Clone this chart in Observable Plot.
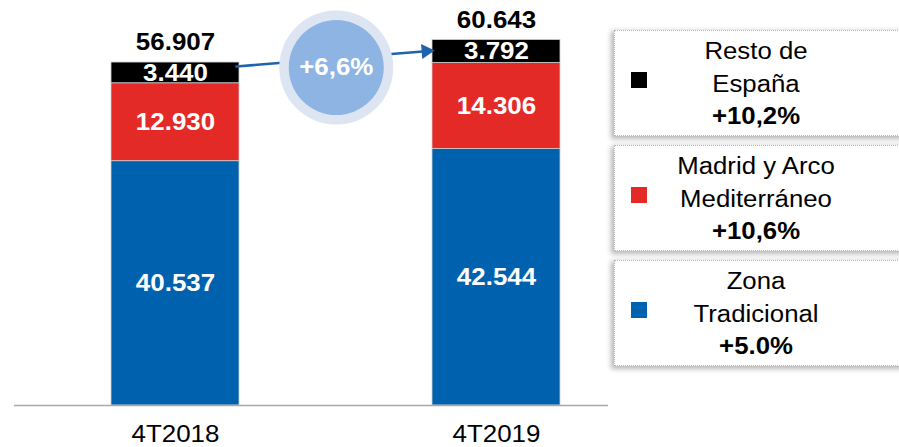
<!DOCTYPE html>
<html><head><meta charset="utf-8">
<script src="https://cdn.jsdelivr.net/npm/d3@7"></script>
<script src="https://cdn.jsdelivr.net/npm/@observablehq/plot@0.6"></script>
<style>
body{margin:0;background:#fff;overflow:hidden;font-family:"Liberation Sans",Arial,sans-serif;}
#wrap{position:relative;width:899px;height:447px;overflow:hidden;}
#chart{position:absolute;left:0;top:0;}
.box{position:absolute;left:614px;width:300px;height:104px;background:#fff;border:1px dotted #b8b8b8;box-shadow:-2px 2px 5px 1px rgba(0,0,0,0.28);}
.sw{position:absolute;left:16px;top:41px;width:16px;height:16px;}
.txt{position:absolute;left:0;top:4px;width:282px;text-align:center;font-size:23px;line-height:32.5px;color:#000;transform:scaleX(1.12);transform-origin:141px 0;}
.txt b{font-weight:bold;}
</style></head>
<body><div id="wrap"><div id="chart"></div><div id="legend"></div></div>
<script>
const periods = ["4T2018", "4T2019"];
const zonas = ["Zona Tradicional", "Madrid y Arco Mediterráneo", "Resto de España"];
const zonaLines = [["Zona", "Tradicional"], ["Madrid y Arco", "Mediterráneo"], ["Resto de", "España"]];
const tradicional = [40537, 42544];
const madrid = [12930, 14306];
const resto = [3440, 3792];
const totals = [56907, 60643];
const zonaGrowth = ["+5.0%", "+10,6%", "+10,2%"];
const totalGrowth = "+6,6%";
const colors = ["#0061ae", "#e42a27", "#000000"];

const fmt = d3.formatLocale({decimal: ",", thousands: ".", grouping: [3], currency: ["", "€"]}).format(",d");

const series = [tradicional, madrid, resto];
const rows = [];
periods.forEach((p, i) => {
  let acc = 0;
  series.forEach((s, k) => {
    rows.push({period: p, zona: zonas[k], value: s[i], y1: acc, y2: acc + s[i], color: colors[k]});
    acc += s[i];
  });
});
const totalRows = periods.map((p, i) => ({period: p, total: totals[i]}));
// growth annotation (arrow from bar 1 to bar 2, bubble between)
const arrowRows = [{from: periods[0], to: periods[1], y1: 55440, y2: 59730}];
const arrowHeadRows = [{period: periods[1], y: 58790}];
const bubbleRows = [{period: periods[0], y: 56080, label: totalGrowth}];

const chart = Plot.plot({
  width: 608,
  height: 447,
  marginLeft: 14,
  marginRight: 0,
  marginTop: 0,
  marginBottom: 42,
  style: {fontFamily: "'Liberation Sans', Arial, sans-serif", color: "#000", background: "transparent"},
  x: {domain: periods, range: [110.5, 560], paddingInner: 0.602, paddingOuter: 0, axis: null},
  y: {domain: [0, 67200], axis: null},
  marks: [
    Plot.barY(rows, {x: "period", y1: "y1", y2: "y2", fill: "color", stroke: "#cfcfcf", strokeWidth: 0.8}),
    Plot.ruleY([0], {stroke: "#a9a9a9", strokeWidth: 1.5}),
    Plot.text(rows, {x: "period", y: d => (d.y1 + d.y2) / 2, text: d => fmt(d.value), fill: "white", fontSize: 24, fontWeight: "bold"}),
    Plot.text(totalRows, {x: "period", y: "total", text: d => fmt(d.total), dy: -20, fill: "black", fontSize: 24, fontWeight: "bold"}),
    Plot.arrow(arrowRows, {x1: "from", x2: "to", y1: "y1", y2: "y2", insetStart: 61, insetEnd: 74, stroke: "#1f63ad", strokeWidth: 2.6, headLength: 0}),
    Plot.dot(arrowHeadRows, {x: "period", y: "y", dx: -70.5, r: 7.2, symbol: "triangle2", rotate: 85.4, fill: "#1f63ad", stroke: "none"}),
    Plot.dot(bubbleRows, {x: "period", y: "y", dx: 160.75, r: 57, fill: "#dde5f2", stroke: "none"}),
    Plot.dot(bubbleRows, {x: "period", y: "y", dx: 160.75, r: 47.5, fill: "#8db4e2", stroke: "none"}),
    Plot.text(bubbleRows, {x: "period", y: "y", dx: 160.75, text: "label", fill: "white", fontSize: 24, fontWeight: "bold"}),
    Plot.axisX({domain: periods, tickSize: 0, tickPadding: 19, fontSize: 24, fill: "#000"})
  ]
});
// reference typography is slightly wide: stretch text horizontally around its anchor
chart.querySelectorAll("text").forEach(t => {
  const tr = t.getAttribute("transform") || "";
  t.setAttribute("transform", (tr + " scale(1.08,1)").trim());
});
document.getElementById("chart").appendChild(chart);

// legend boxes (top to bottom: Resto, Madrid, Tradicional)
const legend = document.getElementById("legend");
const order = [2, 1, 0];
const boxTops = [30, 145, 260];
order.forEach((k, j) => {
  const box = document.createElement("div");
  box.className = "box";
  box.style.top = boxTops[j] + "px";
  const sw = document.createElement("div");
  sw.className = "sw";
  sw.style.background = colors[k];
  box.appendChild(sw);
  const txt = document.createElement("div");
  txt.className = "txt";
  txt.innerHTML = zonaLines[k].join("<br>") + "<br><b>" + zonaGrowth[k] + "</b>";
  box.appendChild(txt);
  legend.appendChild(box);
});
</script>
</body></html>
